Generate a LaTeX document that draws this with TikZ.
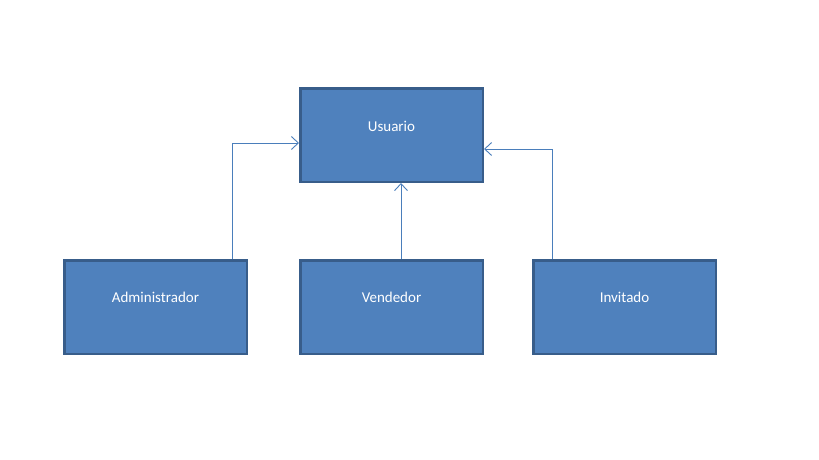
\documentclass[tikz,border=0pt]{standalone}
\usepackage{fontspec}
\setmainfont{Carlito}
\usetikzlibrary{arrows.meta}
\definecolor{boxfill}{HTML}{4F81BD}
\definecolor{boxline}{HTML}{385D8A}
\definecolor{connline}{HTML}{4A7EBB}
\tikzset{
  box/.style={draw=boxline, fill=boxfill, line width=2.5pt, minimum width=182.5pt, minimum height=93.5pt, inner sep=0pt},
  txt/.style={text=white, font=\fontsize{15}{17}\selectfont, inner sep=0pt},
  conn/.style={draw=connline, line width=0.9pt, -{Straight Barb[length=7pt,width=13pt,line width=0.9pt]}}
}
\begin{document}
\begin{tikzpicture}[x=1pt,y=-1pt]
\useasboundingbox (0,0) rectangle (819,460);
\node[box] (usuario) at (391.5,135) {};
\node[txt] (usuarioT) at (391.5,126) {Usuario};
\node[box] (admin) at (155.5,307) {};
\node[txt] (adminT) at (155.5,297) {Administrador};
\node[box] (vend) at (391.5,307) {};
\node[txt] (vendT) at (391.5,297) {Vendedor};
\node[box] (invit) at (624.5,307) {};
\node[txt] (invitT) at (624.5,297) {Invitado};
\coordinate (aTop) at ([xshift=-16pt]admin.north east);
\coordinate (uLeft) at ([yshift=-8pt]usuario.west);
\coordinate (iTop) at ([xshift=20pt]invit.north west);
\coordinate (uRight) at ([yshift=-14pt]usuario.east);
\coordinate (vTop) at ([xshift=9.5pt]vend.north);
\coordinate (uBot) at ([xshift=9.5pt]usuario.south);
\draw[conn] (aTop) |- (uLeft);
\draw[conn] (vTop) -- (uBot);
\draw[conn] (iTop) |- (uRight);
\end{tikzpicture}
\end{document}
